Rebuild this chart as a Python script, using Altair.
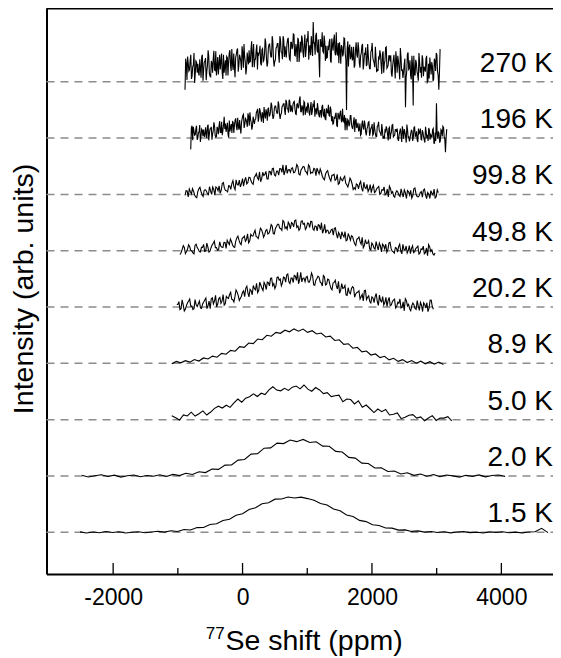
import numpy as np
import pandas as pd
import altair as alt

# ---------------- data ----------------
temps = ["1.5 K", "2.0 K", "5.0 K", "8.9 K", "20.2 K", "49.8 K", "99.8 K", "196 K", "270 K"]
# first / last chemical shift of every trace (ppm)
x_start = [-2512, -2485, -1094, -1094, -1017, -966, -889, -801, -889]
x_end = [4722, 4057, 3233, 3104, 2949, 2975, 3026, 3156, 3053]

# intensities (arb. units, 100 = spacing between stacked traces), evenly spaced samples
s_1_5 = [0.8, -1.2, 0.5, -0.7, 1.4, -0.3, 0.9, -1.1, 0.2, 1.0, -0.8, 0.6,
         1.9, 0.4, 2.8, 1.6, 4.9, 4.2, 8.4, 8.6, 13.8, 15.1, 21.0, 23.2, 30.3, 33.0,
         40.6, 43.5, 50.8, 52.6, 58.9, 59.3, 62.8, 61.0, 62.4, 59.9, 57.1, 51.0, 48.6,
         41.3, 38.3, 30.9, 28.1, 21.2, 19.0, 13.5, 12.1, 7.6, 7.4, 3.9, 4.3, 1.6, 2.5, 0.3,
         1.5, -0.4, 0.9, -1.0, 0.6, 1.2, -0.6, 0.3, -1.1, 0.8, 0.0, 1.1, -0.7, 0.4, -0.9,
         0.7, 1.0, 7.0, -0.5]
s_2_0 = [1.2, -1.8, 0.6, 2.1, -0.9, 1.5, -2.0, 0.4, 1.9, -1.3, 0.8, -0.5, 2.2,
         -0.8, 2.9, 0.7, 4.8, 2.6, 7.5, 6.1, 12.4, 11.8, 19.3, 19.5, 28.2, 29.4, 38.9,
         39.6, 49.4, 50.0, 58.3, 57.6, 63.9, 61.0, 64.9, 59.6, 60.7, 53.1, 52.9, 43.7,
         42.6, 33.1, 31.8, 22.9, 22.1, 14.3, 14.5, 7.9, 9.0, 3.6, 5.7, 1.1, 3.6, -0.4, 2.6,
         -1.1, 1.7, 0.2, -1.9, 1.4, -0.6, 2.0, -1.5, 0.9, 1.8, -0.7]
s_5_0 = [7.1, 3.3, -0.5, 8.5, 6.7, 13.3, 6.4, 10.5, 15.6, 8.3,
         13.6, 20.1, 23.9, 20.7, 25.7, 21.8, 29.7, 36.7, 31.1, 38.2,
         40.8, 45.9, 41.2, 47.0, 44.7, 52.9, 58.4, 52.6, 51.3, 55.7,
         52.0, 57.7, 59.7, 54.8, 61.6, 54.3, 50.5, 57.1, 52.8, 46.3,
         47.9, 41.1, 42.4, 43.5, 32.0, 36.6, 35.8, 27.9, 33.5, 22.1,
         26.0, 19.4, 12.7, 18.9, 14.3, 18.1, 8.3, 9.7, 11.9, 1.8,
         4.3, 8.0, 8.9, 2.9, 4.9, -1.9, 3.0, 7.2, -1.3, 3.0,
         2.8, 5.3, -2.1]
s_8_9 = [-0.6, 3.4, 0.9, 4.8, 2.2, 6.9, 4.1, 9.6, 7.7, 12.9,
         11.0, 17.8, 16.2, 23.1, 21.5, 29.6, 28.4, 36.2, 35.0, 43.3,
         42.0, 49.8, 48.1, 55.0, 53.4, 58.9, 56.0, 61.2, 57.2, 60.9,
         55.1, 58.0, 52.3, 53.9, 46.8, 48.4, 40.6, 41.9, 33.8, 34.9,
         26.9, 28.3, 20.4, 22.0, 14.8, 16.7, 10.3, 12.5, 6.2, 9.0,
         3.6, 6.6, 1.5, 4.9, 0.4, 3.8, -0.7, 3.0, -1.2, 2.4,
         -2.0]
s_20_2 = [4.5, 9.6, -2.9, 3.8, -3.9, 7.6, 14.2, 1.7, -2.8, 3.9,
          5.8, -1.5, 5.5, 12.6, -2.8, 10.7, 14.6, 5.6, 20.7, 5.3,
          17.2, 10.4, 3.5, 19.1, 15.4, 26.2, 13.0, 18.9, 26.5, 11.6,
          19.2, 28.7, 33.3, 25.2, 31.5, 21.8, 32.8, 42.3, 29.4, 38.8,
          29.1, 39.9, 44.3, 37.5, 51.5, 41.5, 37.8, 53.4, 49.8, 43.0,
          52.2, 57.3, 44.7, 51.4, 43.6, 55.1, 61.8, 49.2, 44.7, 51.3,
          53.2, 44.4, 49.9, 55.5, 38.6, 50.6, 53.0, 42.5, 56.1, 39.2,
          49.6, 40.2, 30.7, 43.7, 37.5, 45.7, 29.8, 33.2, 38.2, 20.7,
          25.7, 32.4, 34.2, 23.3, 26.7, 14.2, 22.4, 29.1, 13.3, 20.0,
          7.4, 16.1, 18.4, 9.5, 21.4, 9.4, 3.7, 17.2, 11.5, 2.6,
          9.7, 14.1, 0.8, 6.8, -1.6, 9.2, 15.1, 1.9, -3.3, 2.6,
          3.8, -4.3, 1.9, 8.2, -8.0, 4.7, 7.7, -2.0, 12.2, -3.9]
s_49_8 = [-6.7, 2.5, 5.8, -1.5, 10.7, 0.5, -3.8, 9.9, 5.6, -1.6,
          6.1, 11.2, -0.2, 6.4, -0.5, 10.6, 17.1, 5.7, 1.8, 8.4,
          6.0, 14.6, 18.7, 10.8, 16.4, 7.1, 17.2, 25.8, 13.4, 22.0,
          26.1, 20.0, 14.0, 28.9, 25.9, 36.3, 24.2, 30.2, 37.6, 24.1,
          36.0, 29.6, 36.7, 43.8, 29.9, 43.0, 47.0, 39.1, 53.7, 39.8,
          38.0, 47.0, 50.0, 42.5, 54.5, 44.0, 39.5, 53.0, 48.5, 41.0,
          48.6, 52.1, 39.0, 44.0, 35.4, 44.9, 49.8, 36.8, 31.2, 36.2,
          32.1, 38.2, 39.7, 29.3, 32.3, 20.4, 27.9, 34.0, 19.0, 25.1,
          26.6, 18.0, 9.3, 21.7, 16.1, 24.0, 9.3, 12.7, 17.6, 1.4,
          10.8, 2.7, 8.1, 13.5, -2.1, 9.3, 11.6, 2.0, 14.9, -0.7,
          -4.3, 4.5, 7.2, -0.5, 11.2, 0.5, -4.2, 9.0, 4.3, -3.5,
          3.8, 8.2, -3.8, 2.1, -5.5, 4.9, 10.8, -1.2, -5.8, -4.0]
s_99_8 = [-1.6, 6.2, 9.6, 0.9, 5.7, -4.5, 4.9, 12.7, -0.5, 7.4,
          6.2, -0.5, 6.2, 13.0, -1.3, 11.5, 15.2, 7.0, 21.2, 7.0,
          4.7, 14.9, 19.1, 12.8, 26.0, 16.8, 13.5, 28.2, 24.9, 18.6,
          30.3, 24.1, 17.9, 32.8, 29.6, 39.9, 27.7, 33.5, 40.9, 27.2,
          40.5, 45.7, 34.5, 41.2, 34.4, 45.7, 52.4, 41.1, 37.3, 44.1,
          46.3, 38.5, 44.1, 49.8, 34.5, 46.2, 48.8, 39.5, 52.7, 37.3,
          38.5, 44.8, 46.6, 36.5, 39.8, 28.1, 35.9, 42.2, 27.6, 33.9,
          35.7, 26.9, 18.1, 30.2, 24.4, 32.1, 17.3, 20.5, 25.1, 8.8,
          9.0, 17.1, 19.1, 10.7, 21.7, 10.3, 4.9, 17.4, 12.0, 3.5,
          10.1, 14.1, 1.7, 7.2, -0.8, 9.3, 14.8, 2.3, -2.7, 2.9,
          3.9, -3.8, 2.0, 7.9, -7.3, 4.5, 7.3, -1.9, 11.5, -3.7,
          -2.4, 5.0, 7.9, -1.1, 3.3, -7.1, 1.8, 9.3, -4.3, 3.1]
s_196 = [-20, 22, 20, 5, 16, -3, 10, 23, 3, 14,
         15, 2, 10, 21, -4, 16, 20, 7, 28, 5,
         3, 17, 22, 10, 29, 13, 38, 26, 19, 7,
         31, 19, 9, 28, 23, 35, 14, 21, 32, 8,
         35, 42, 24, 33, 20, 38, 46, 28, 21, 31,
         33, 45, 52, 37, 48, 29, 42, 55, 35, 46,
         52, 39, 47, 58, 34, 53, 57, 44, 65, 42,
         42, 56, 61, 49, 68, 52, 45, 65, 58, 46,
         64, 52, 42, 61, 56, 74, 47, 54, 65, 41,
         56, 63, 45, 54, 41, 59, 67, 49, 42, 52,
         37, 49, 56, 41, 52, 33, 46, 59, 39, 50,
         39, 26, 34, 45, 21, 40, 44, 31, 52, 29,
         14, 28, 33, 21, 40, 24, 17, 37, 30, 18,
         27, 15, 5, 24, 19, 31, 10, 17, 28, 4,
         18, 25, 7, 16, 3, 21, 29, 11, 4, 14,
         2, 14, 21, 6, 17, -2, 11, 24, 4, 15,
         11, -2, 6, 17, -7, 12, 16, 3, 24, 1,
         -6, 8, 13, 1, 20, 4, -3, 17, 10, -2,
         14, 2, -8, 11, 6, 18, -3, 4, 15, -9,
         10, 62, -1, 8, -5, 13, 21, 3, -25, 16]
s_270 = [-14, 32, 45, 19, 38, 5, 27, 51, 15, 35,
         32, 11, 24, 44, 2, 35, 42, 19, 56, 15,
         9, 33, 41, 21, 54, 26, 13, 48, 36, 16,
         48, 27, 11, 43, 35, 56, 19, 32, 50, 8,
         48, 59, 29, 44, 21, 52, 67, 35, 24, 40,
         56, 36, 72, 48, 26, 40, 66, 50, 53, 33,
         57, 36, 49, 69, 27, 60, 67, 44, 81, 40,
         36, 60, 68, 48, 81, 53, 40, 75, 63, 43,
         75, 54, 38, 70, 62, 84, 46, 59, 78, 35,
         71, 82, 52, 67, 44, 75, 90, 58, 47, 63,
         106, 69, 82, 56, 75, 8, 64, 88, 52, 72,
         64, 43, 56, 76, 34, 67, 74, 51, 88, 47,
         33, 57, 65, 45, 78, 50, -50, 72, 60, 40,
         62, 41, 25, 57, 49, 70, 33, 46, 64, 22,
         50, 61, 31, 46, 23, 54, 69, 37, 26, 42,
         23, 43, 56, 30, 49, 16, 38, 62, 26, 46,
         36, 15, 28, 48, 6, 39, 46, 23, 60, 19,
         7, 31, -45, 19, 52, 24, 11, 46, -42, 14,
         39, 18, 2, 35, 26, 47, 10, 23, 41, -1,
         32, 43, 13, 28, 5, 36, 51, 19, -14, 58]

# readings half-way between consecutive samples of the noisier traces
m_20_2 = [4.5, -4.5, 12.9, -7.1, 2.6, 10.7, 1.6, -4.3, 13.2, 0.9,
          10.7, -2.6, 8.9, 15.9, 2.4, -3.1, 16.3, 10.7, 0.4, 15.1,
          6.7, 22.0, 5.9, 16.5, 22.2, 14.1, 9.0, 30.4, 20.7, 15.6,
          26.2, 18.4, 36.9, 18.1, 29.0, 38.3, 30.3, 25.6, 44.3, 33.2,
          43.9, 31.1, 43.2, 50.7, 37.8, 32.8, 52.6, 47.6, 37.8, 53.1,
          44.4, 58.8, 41.8, 51.5, 56.3, 47.3, 41.3, 61.8, 51.2, 45.2,
          54.3, 44.2, 60.4, 39.3, 47.8, 54.8, 44.6, 37.5, 53.9, 40.5,
          48.7, 33.3, 42.7, 47.6, 32.1, 24.5, 41.7, 34.1, 21.7, 34.3,
          23.5, 36.3, 17.7, 25.8, 29.0, 18.4, 10.7, 29.7, 17.4, 9.9,
          18.1, 7.9, 24.1, 2.9, 11.4, 18.4, 8.1, 1.0, 17.3, 3.9,
          12.5, -1.9, 8.5, 14.4, -0.1, -6.7, 11.5, 4.9, -6.5, 7.1,
          -2.6, 11.4, -6.0, 3.3, 7.7, -1.7, -8.2, 12.0, 0.9]
m_49_8 = [-3.0, 9.0, -5.1, 2.9, 7.1, -0.5, -5.5, 11.6, 2.8, -2.2,
          6.0, -1.2, 13.7, -2.6, 5.8, 12.9, 5.6, 1.0, 15.9, 6.1,
          14.8, 4.2, 14.4, 20.7, 10.1, 6.1, 22.8, 18.7, 10.7, 23.5,
          16.9, 30.0, 17.2, 26.4, 31.8, 25.4, 21.6, 40.0, 32.3, 28.6,
          37.7, 31.0, 46.4, 30.6, 39.5, 47.0, 40.3, 36.2, 51.6, 42.3,
          50.7, 39.0, 48.1, 53.3, 41.6, 36.4, 52.0, 46.8, 37.7, 49.4,
          41.2, 51.9, 36.5, 43.3, 46.1, 37.3, 31.0, 46.9, 36.7, 30.5,
          37.0, 27.8, 40.6, 22.3, 28.6, 33.7, 24.4, 17.8, 30.6, 18.8,
          25.2, 12.4, 20.3, 24.4, 11.6, 5.3, 19.7, 13.4, 3.2, 13.7,
          5.1, 16.2, 1.3, 8.5, 11.8, 3.3, -2.5, 13.8, 4.1, -1.7,
          5.7, -2.4, 11.7, -5.5, 2.1, 8.4, 0.3, -5.1, 8.9, -1.7,
          5.9, -5.8, 3.2, 8.3, -3.4, -8.7, 6.8, 1.6, -7.6]
m_99_8 = [6.8, -4.6, 4.9, 10.4, -1.0, -5.9, 10.1, 5.2, -3.6, 8.5,
          1.2, 13.7, 0.1, 8.7, 13.3, 6.3, 1.8, 19.5, 11.1, 6.7,
          15.4, 8.8, 24.3, 8.6, 17.6, 25.4, 18.8, 14.8, 30.3, 21.1,
          30.2, 19.8, 30.2, 36.8, 26.4, 22.5, 39.4, 35.5, 27.8, 40.8,
          34.0, 46.4, 32.9, 41.4, 46.0, 39.0, 34.5, 52.1, 43.7, 39.3,
          47.3, 39.1, 53.1, 35.9, 43.4, 49.5, 41.4, 35.9, 49.8, 39.1,
          46.1, 33.2, 41.1, 45.2, 32.3, 25.9, 40.3, 34.0, 23.7, 34.2,
          25.1, 35.5, 19.9, 26.3, 29.0, 19.8, 13.3, 28.9, 18.5, 11.9,
          18.6, 9.9, 23.2, 5.4, 12.3, 17.8, 9.1, 3.0, 16.3, 5.0,
          12.1, -0.1, 8.5, 13.3, 1.1, -4.6, 10.6, 4.9, -4.7, 6.5,
          -1.6, 9.9, -4.6, 3.1, 6.8, -1.2, -6.6, 10.1, 0.9, -4.5,
          3.1, -4.7, 9.5, -7.4, 0.3, 6.8, -1.1, -6.3, 7.9]
m_196 = [18, -4, 13, 6, 22, 0, 11, -7, 16, 3,
         5, 19, 0, 24, 8, 17, -3, 13, 22, 2,
         20, 7, 30, 10, 5, 24, 16, 11, 27, 1,
         12, 25, 29, 9, 32, 20, 36, 15, 18, 28,
         40, 18, 35, 28, 44, 22, 33, 15, 38, 25,
         34, 48, 29, 53, 37, 46, 27, 42, 51, 31,
         53, 40, 63, 43, 38, 57, 49, 44, 60, 34,
         44, 57, 61, 41, 64, 52, 68, 47, 50, 60,
         65, 43, 60, 53, 69, 47, 58, 40, 63, 50,
         45, 59, 40, 64, 48, 57, 38, 53, 62, 42,
         49, 36, 59, 39, 34, 53, 45, 40, 56, 30,
         25, 38, 42, 22, 45, 33, 49, 28, 31, 41,
         36, 14, 31, 24, 40, 18, 29, 11, 34, 21,
         12, 26, 7, 31, 15, 24, 5, 20, 29, 9,
         18, 5, 28, 8, 3, 22, 14, 9, 25, -1,
         -1, 12, 16, -4, 19, 7, 23, 2, 5, 15,
         17, -5, 12, 5, 21, -1, 10, -8, 15, 2,
         0, 14, -5, 19, 3, 12, -7, 8, 17, -3,
         10, -3, 20, 0, -5, 14, 6, 1, 17, -9,
         -5, 8, 12, -8, 15, 3, 19, -2, 1]
m_270 = [41, 3, 33, 21, 48, 10, 30, -2, 37, 16,
         16, 40, 7, 48, 21, 37, 3, 29, 45, 10,
         37, 16, 55, 20, 11, 44, 31, 22, 50, 5,
         16, 38, 45, 11, 51, 29, 58, 21, 27, 43,
         56, 18, 48, 36, 63, 25, 45, 13, 52, 31,
         35, 59, 26, 67, 40, 56, 22, 48, 64, 29,
         59, 38, 77, 42, 33, 66, 53, 44, 72, 27,
         39, 61, 68, 34, 74, 52, 81, 44, 50, 66,
         78, 40, 70, 58, 85, 47, 67, 35, 74, 53,
         52, 76, 43, 84, 57, 73, 39, 65, 81, 46,
         69, 48, 87, 52, 43, 76, 63, 54, 82, 37,
         42, 64, 71, 37, 77, 55, 84, 47, 53, 69,
         70, 32, 62, 50, 77, 39, 59, 27, 66, 45,
         38, 62, 29, 70, 43, 59, 25, 51, 67, 32,
         49, 28, 67, 32, 23, 56, 43, 34, 62, 17,
         19, 41, 48, 14, 54, 32, 61, 24, 30, 46,
         47, 9, 39, 27, 54, 16, 36, 4, 43, 22,
         17, 41, 8, 49, 22, 38, 4, 30, 46, 11,
         33, 12, 51, 16, 7, 40, 27, 18, 46, 1,
         6, 28, 35, 1, 41, 19, 48, 11, 17]

spectra = [s_1_5, s_2_0, s_5_0, s_8_9, s_20_2, s_49_8, s_99_8, s_196, s_270]
mids = [None, None, None, None, m_20_2, m_49_8, m_99_8, m_196, m_270]
STEP = 100  # vertical offset between stacked traces

tick_major = [-2000, 0, 2000, 4000]
tick_minor = [-1000, 1000, 3000]

# ---------------- tables ----------------
rows = []
for k, (t, a, b, vals, mv) in enumerate(zip(temps, x_start, x_end, spectra, mids)):
    xs_ = np.linspace(a, b, len(vals))
    for xv, yv in zip(xs_, vals):
        rows.append({"temp": t, "shift": float(xv), "y": yv + k * STEP})
    if mv is not None:
        xm = (xs_[:-1] + xs_[1:]) / 2
        for xv, yv in zip(xm, mv):
            rows.append({"temp": t, "shift": float(xv), "y": yv + k * STEP})
df = pd.DataFrame(rows).sort_values(["temp", "shift"]).reset_index(drop=True)
base = pd.DataFrame({"temp": temps, "off": [k * STEP for k in range(len(temps))]})

# ---------------- layout / style ----------------
W, H = 506.5, 566
FONT = "Liberation Sans, Arial, sans-serif"
xscale = alt.Scale(domain=[-3030, 4798], nice=False, zero=False)
yscale = alt.Scale(domain=[-74, 931], nice=False, zero=False)
xaxis = alt.Axis(values=tick_major, ticks=False, grid=False, domainColor="black",
                 domainWidth=2, labelFont=FONT, labelFontSize=23, labelColor="black",
                 labelPadding=12, labelFlush=False, title=None,
                 labelExpr="datum.value < 0 ? '-' + toString(-datum.value) : toString(datum.value)")
yaxis = alt.Axis(ticks=False, labels=False, grid=False, domainColor="black",
                 domainWidth=2, title=None)


def X(field):
    return alt.X(field, scale=xscale, axis=xaxis, title=None)


def Y(field):
    return alt.Y(field, scale=yscale, axis=yaxis, title=None)


baselines = alt.Chart(base).mark_rule(color="#8c8c8c", strokeWidth=1.5, strokeDash=[8, 6]).encode(
    y=Y("off:Q"), x=alt.value(0), x2=alt.value(W))

traces = alt.Chart(df).mark_line(color="black", strokeWidth=1.1).encode(
    x=X("shift:Q"), y=Y("y:Q"), detail="temp:N", order="shift:Q")

major = alt.Chart(pd.DataFrame({"v": tick_major})).mark_rule(color="black", strokeWidth=1.3).encode(
    x=X("v:Q"), y=alt.value(H), y2=alt.value(H - 11))
minor = alt.Chart(pd.DataFrame({"v": tick_minor})).mark_rule(color="black", strokeWidth=1.3).encode(
    x=X("v:Q"), y=alt.value(H), y2=alt.value(H - 6))

top = alt.Chart(pd.DataFrame({"a": [0]})).mark_rule(color="black", strokeWidth=2).encode(
    x=alt.value(0), x2=alt.value(W), y=alt.value(0.5))

labels = alt.Chart(base).mark_text(align="right", baseline="alphabetic", dy=-10, font=FONT,
                                   fontSize=28, color="black").encode(
    y=Y("off:Q"), x=alt.value(W), text="temp:N")

xt = pd.DataFrame({"t": ["Se shift (ppm)"], "s": ["77"]})
xtitle = alt.Chart(xt).mark_text(align="left", baseline="alphabetic", font=FONT, fontSize=28.5,
                                 color="black").encode(x=alt.value(178.9), y=alt.value(642), text="t:N")
xsup = alt.Chart(xt).mark_text(align="left", baseline="alphabetic", font=FONT, fontSize=17,
                               color="black").encode(x=alt.value(159.2), y=alt.value(630.8), text="s:N")
ytitle = alt.Chart(pd.DataFrame({"t": ["Intensity (arb. units)"]})).mark_text(
    align="center", baseline="alphabetic", angle=270, font=FONT, fontSize=28.5, color="black").encode(
    x=alt.value(-14), y=alt.value(281), text="t:N")

chart = alt.layer(baselines, traces, major, minor, top, labels, xtitle, xsup, ytitle).properties(
    width=W, height=H,
    autosize=alt.AutoSizeParams(type="none"),
    padding={"left": 38.5, "top": 0, "right": 0, "bottom": 84},
).configure_view(strokeWidth=0)

chart.save("out.html", embed_options={"renderer": "svg", "actions": False})
